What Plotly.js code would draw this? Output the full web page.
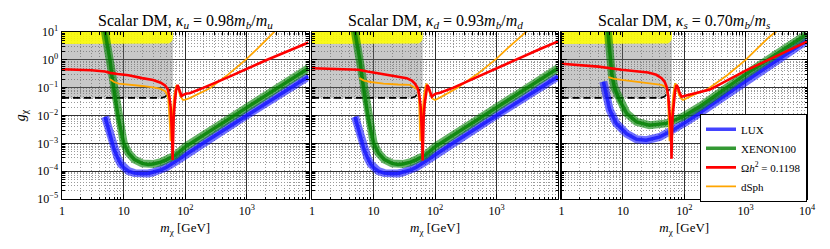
<!DOCTYPE html>
<html><head><meta charset="utf-8">
<script src="https://cdn.plot.ly/plotly-3.0.1.min.js"></script>
<style>html,body{margin:0;padding:0;background:#fff}#chart{width:830px;height:249px}</style>
</head><body><div id="chart"></div>
<script>
// ---------- tick labels ----------
const yTickVals = [10, 1, 0.1, 0.01, 0.001, 0.0001, 0.00001];
const yTickText = ['10<sup>1</sup>','10<sup>0</sup>','10<sup>−1</sup>','10<sup>−2</sup>','10<sup>−3</sup>','10<sup>−4</sup>','10<sup>−5</sup>'];
const xTickVals = [1, 10, 100, 1000];
const xTickText = ['1', '10', '10<sup>2</sup>', '10<sup>3</sup>'];
const xTickValsLast = [1, 10, 100, 1000, 10000];
const xTickTextLast = ['1', '10', '10<sup>2</sup>', '10<sup>3</sup>', '10<sup>4</sup>'];
const panelTitles = [
  'Scalar DM, <i>κ<sub>u</sub></i> = 0.98<i>m<sub>b</sub></i>/<i>m<sub>u</sub></i>',
  'Scalar DM, <i>κ<sub>d</sub></i> = 0.93<i>m<sub>b</sub></i>/<i>m<sub>d</sub></i>',
  'Scalar DM, <i>κ<sub>s</sub></i> = 0.70<i>m<sub>b</sub></i>/<i>m<sub>s</sub></i>'
];
const seriesNames = ['LUX', 'XENON100', 'Ω<i>h</i><sup>2</sup> = 0.1198', 'dSph'];

// ---------- excluded regions (same in all panels) ----------
const grayM = [1, 42, 48, 52, 55, 57, 63, 63, 1];
const grayG = [0.042, 0.042, 0.047, 0.057, 0.071, 0.09, 0.1, 20, 20];
const yelM = [1, 45, 54, 59, 62, 63, 63, 1];
const yelG = [3.7, 3.7, 3.9, 4.4, 5.2, 6.5, 20, 20];
const dashM = [1, 42, 48, 52, 55, 57];
const dashG = [0.043, 0.043, 0.048, 0.058, 0.072, 0.09];

// ---------- LUX / XENON100 (kappa_u and kappa_d) ----------
const luxM_ud = [5, 5.5, 6, 6.5, 7, 8, 9, 10, 12, 15, 20, 25, 30, 40, 50, 70, 100, 200, 500, 1000, 2000, 5000, 10000];
const luxG_ud = [9e-3, 4e-3, 1.9e-3, 1.0e-3, 6.2e-4, 3.0e-4, 1.8e-4, 1.35e-4, 1.0e-4, 8.5e-5, 8.0e-5, 8.3e-5, 9.0e-5, 1.1e-4, 1.4e-4, 2.2e-4, 3.8e-4, 1.05e-3, 3.8e-3, 1.02e-2, 2.7e-2, 0.1, 0.25];
const xenM_ud = [4.95, 5.5, 6, 6.5, 7, 7.5, 8, 9, 10, 12, 15, 20, 25, 30, 40, 50, 70, 100, 200, 500, 1000, 2000, 5000, 10000];
const xenG_ud = [11, 2.9, 1.0, 0.23, 0.068, 0.027, 0.012, 3e-3, 1.05e-3, 4.5e-4, 2.6e-4, 1.9e-4, 1.75e-4, 1.8e-4, 2.1e-4, 2.6e-4, 3.8e-4, 7.5e-4, 2.0e-3, 7.5e-3, 2.0e-2, 5.2e-2, 0.19, 0.5];

// ---------- LUX / XENON100 (kappa_s) ----------
const luxM_s = [4.8, 5.3, 6.1, 7.8, 11.5, 16.7, 24, 40, 66, 108, 180, 1000, 10000];
const luxG_s = [0.165, 0.06, 0.016, 5.2e-3, 2.2e-3, 1.4e-3, 1.3e-3, 1.7e-3, 3e-3, 5.9e-3, 0.0125, 0.17, 5];
const xenM_s = [5.7, 6.1, 6.6, 7.3, 8.8, 11.5, 16.7, 27, 51, 95, 180, 1000, 10000];
const xenG_s = [11, 1.5, 0.3, 0.1, 0.036, 0.012, 5.9e-3, 4.5e-3, 5.2e-3, 9e-3, 0.021, 0.3, 8.5];

// ---------- relic density ----------
const relM_u = [1, 2, 3, 5, 6, 8, 12, 20, 30, 40, 47, 52, 55, 58, 60, 61.5, 62.3, 63.2, 65, 67.5, 71, 75, 78, 82, 87, 95, 105, 118, 200, 500, 1000, 2000, 5000, 10000];
const relG_u = [0.46, 0.44, 0.42, 0.38, 0.34, 0.31, 0.28, 0.22, 0.19, 0.15, 0.12, 0.09, 0.05, 0.02, 0.006, 1.2e-3, 2.5e-4, 1.8e-3, 0.009, 0.027, 0.08, 0.125, 0.1, 0.065, 0.05, 0.056, 0.062, 0.063, 0.1, 0.24, 0.48, 0.95, 2.2, 4.2];
const relM_d = [1, 2, 3, 5.7, 8, 14.5, 25, 34.6, 42, 47, 52, 55.5, 58.5, 60.5, 62, 62.8, 63.6, 65.5, 68, 71.5, 75, 79, 84, 88.6, 96, 105, 118, 200, 500, 1000, 2000, 5000, 10000];
const relG_d = [0.5, 0.48, 0.47, 0.44, 0.38, 0.31, 0.25, 0.22, 0.18, 0.14, 0.1, 0.055, 0.02, 0.006, 1.2e-3, 2.4e-4, 1.8e-3, 0.009, 0.027, 0.08, 0.125, 0.1, 0.065, 0.047, 0.055, 0.062, 0.064, 0.1, 0.25, 0.5, 1.0, 2.4, 4.6];
const relM_s = [1, 2, 4, 9.5, 18, 25.8, 35, 42.7, 48, 51.5, 55, 58, 60, 61.2, 62, 62.8, 64.5, 67, 71, 75, 79, 84, 90.5, 100, 130, 180, 262, 1000, 3000, 10000];
const relG_s = [0.72, 0.64, 0.57, 0.44, 0.38, 0.35, 0.29, 0.22, 0.16, 0.11, 0.05, 0.015, 0.004, 1.2e-3, 2.8e-4, 1.5e-3, 0.009, 0.027, 0.08, 0.125, 0.1, 0.065, 0.047, 0.05, 0.058, 0.068, 0.085, 0.41, 1.27, 4.5];

// ---------- dSph ----------
const dsM_u = [6, 7, 8.3, 12, 20, 32, 40, 47, 51, 53, 55, 56.5, 57.6, 59, 61, 63.5, 66, 70.5, 73, 77, 83, 92, 100, 118, 150, 250, 500, 950, 1500, 2200, 3000];
const dsG_u = [0.2, 0.16, 0.14, 0.13, 0.115, 0.1, 0.09, 0.075, 0.055, 0.04, 0.015, 4e-3, 1.2e-3, 2.5e-3, 8e-3, 0.018, 0.05, 0.11, 0.125, 0.09, 0.05, 0.036, 0.037, 0.042, 0.055, 0.095, 0.3, 1.0, 2.6, 6, 12];
const dsM_d = [5.9, 7, 9, 14.5, 25, 39, 47, 53, 55, 56.5, 57.6, 59, 61, 63.5, 66, 70, 73, 77, 84, 92, 100, 120, 150, 225, 500, 1000, 1600, 2400, 3300];
const dsG_d = [0.22, 0.18, 0.16, 0.14, 0.13, 0.125, 0.1, 0.08, 0.035, 0.008, 1.2e-3, 2.5e-3, 8e-3, 0.018, 0.05, 0.11, 0.14, 0.1, 0.055, 0.04, 0.036, 0.044, 0.058, 0.095, 0.32, 1.1, 2.9, 6.5, 12];
const dsM_s = [5.8, 7, 9.5, 15, 25.8, 35, 42.7, 48, 51.5, 54, 56, 57.6, 59, 61, 63.5, 66, 69.5, 72, 76, 82, 89, 95, 110, 150, 230, 500, 1000, 1600, 2400, 3400];
const dsG_s = [0.24, 0.21, 0.19, 0.17, 0.15, 0.135, 0.125, 0.11, 0.095, 0.05, 0.01, 1.2e-3, 2.5e-3, 8e-3, 0.018, 0.05, 0.12, 0.144, 0.1, 0.055, 0.04, 0.036, 0.042, 0.058, 0.083, 0.28, 1.0, 2.8, 6.5, 12];

// ---------- build traces ----------
const FONT = '"Liberation Serif", "Times New Roman", serif';
const panels = [
  {xa: 'x', ya: 'y', lux: [luxM_ud, luxG_ud], xen: [xenM_ud, xenG_ud], rel: [relM_u, relG_u], ds: [dsM_u, dsG_u], leg: false},
  {xa: 'x2', ya: 'y2', lux: [luxM_ud, luxG_ud], xen: [xenM_ud, xenG_ud], rel: [relM_d, relG_d], ds: [dsM_d, dsG_d], leg: false},
  {xa: 'x3', ya: 'y3', lux: [luxM_s, luxG_s], xen: [xenM_s, xenG_s], rel: [relM_s, relG_s], ds: [dsM_s, dsG_s], leg: true}
];
const traces = [];
panels.forEach(p => {
  const base = {xaxis: p.xa, yaxis: p.ya, mode: 'lines', hoverinfo: 'skip'};
  traces.push(Object.assign({}, base, {x: grayM, y: grayG, fill: 'toself', fillcolor: 'rgba(110,110,110,0.38)', line: {width: 0}, showlegend: false}));
  traces.push(Object.assign({}, base, {x: yelM, y: yelG, fill: 'toself', fillcolor: 'rgba(255,255,0,0.88)', line: {width: 0}, showlegend: false}));
  traces.push(Object.assign({}, base, {x: dashM, y: dashG, line: {color: '#000', width: 1.6, dash: '7px,4px'}, showlegend: false}));
  // LUX band (wide translucent) + core line (legend entry)
  traces.push(Object.assign({}, base, {x: p.lux[0], y: p.lux[1], line: {color: 'rgba(20,20,255,0.6)', width: 8}, showlegend: false}));
  traces.push(Object.assign({}, base, {x: p.lux[0], y: p.lux[1], name: seriesNames[0], legendrank: 1, line: {color: 'rgba(20,20,255,0.8)', width: 3.5}, showlegend: p.leg}));
  // XENON100 band
  traces.push(Object.assign({}, base, {x: p.xen[0], y: p.xen[1], line: {color: 'rgba(0,128,0,0.6)', width: 8}, showlegend: false}));
  traces.push(Object.assign({}, base, {x: p.xen[0], y: p.xen[1], name: seriesNames[1], legendrank: 2, line: {color: 'rgba(0,128,0,0.8)', width: 3.5}, showlegend: p.leg}));
  // dSph
  traces.push(Object.assign({}, base, {x: p.ds[0], y: p.ds[1], name: seriesNames[3], legendrank: 4, line: {color: '#ffa500', width: 1.8}, showlegend: p.leg}));
  // relic
  traces.push(Object.assign({}, base, {x: p.rel[0], y: p.rel[1], name: seriesNames[2], legendrank: 3, line: {color: '#ff0000', width: 2.6}, showlegend: p.leg}));
});

function xAxis(domain, vals, text) {
  return {
    type: 'log', range: [0, 4], domain: domain,
    tickmode: 'array', tickvals: vals, ticktext: text,
    ticks: 'inside', ticklen: 5, tickcolor: '#000', tickwidth: 1,
    showline: true, linecolor: '#000', linewidth: 1.4, mirror: 'allticks',
    showgrid: true, gridcolor: '#333', gridwidth: 1, zeroline: false,
    minor: {dtick: 'D1', ticks: 'inside', ticklen: 2.5, tickcolor: '#000', showgrid: true, gridcolor: '#9a9a9a', griddash: '1px,2px', gridwidth: 1},
    tickfont: {family: FONT, size: 12, color: '#000'},
    title: {text: '<i>m</i><sub>χ</sub> [GeV]', font: {family: FONT, size: 13, color: '#000'}, standoff: 6},
    fixedrange: true
  };
}
function yAxis(anchor, labels) {
  const a = {
    type: 'log', range: [-5, 1], anchor: anchor,
    tickmode: 'array', tickvals: yTickVals, ticktext: yTickText, showticklabels: labels,
    ticks: 'inside', ticklen: 5, tickcolor: '#000', tickwidth: 1,
    showline: true, linecolor: '#000', linewidth: 1.4, mirror: 'allticks',
    showgrid: true, gridcolor: '#333', gridwidth: 1, zeroline: false,
    minor: {dtick: 'D1', ticks: 'inside', ticklen: 2.5, tickcolor: '#000', showgrid: true, gridcolor: '#9a9a9a', griddash: '1px,2px', gridwidth: 1},
    tickfont: {family: FONT, size: 12, color: '#000'},
    fixedrange: true
  };
  if (labels) a.title = {text: '<i>g</i><sub>χ</sub>', font: {family: FONT, size: 14, color: '#000'}, standoff: 8};
  return a;
}

const domains = [[0, 0.3309], [0.3356, 0.6658], [0.6705, 1]];
const layout = {
  width: 830, height: 249,
  margin: {l: 62, r: 23, t: 32, b: 50},
  paper_bgcolor: '#fff', plot_bgcolor: '#fff',
  font: {family: FONT, color: '#000'},
  xaxis: xAxis(domains[0], xTickVals, xTickText),
  xaxis2: xAxis(domains[1], xTickVals, xTickText),
  xaxis3: xAxis(domains[2], xTickValsLast, xTickTextLast),
  yaxis: yAxis('x', true),
  yaxis2: yAxis('x2', false),
  yaxis3: yAxis('x3', false),
  legend: {
    x: 1, xanchor: 'right', y: 0.51, yanchor: 'top',
    bgcolor: '#fff', bordercolor: '#000', borderwidth: 1,
    font: {family: FONT, size: 11, color: '#000'},
    itemwidth: 30, tracegroupgap: 0
  },
  annotations: panelTitles.map((t, i) => ({
    text: t, xref: 'paper', yref: 'paper',
    x: (domains[i][0] + domains[i][1]) / 2, y: 1.064,
    xanchor: 'center', yanchor: 'middle', showarrow: false,
    font: {family: FONT, size: 16, color: '#000'}
  })),
  showlegend: true
};

Plotly.newPlot('chart', traces, layout, {staticPlot: true, displayModeBar: false});
</script></body></html>
